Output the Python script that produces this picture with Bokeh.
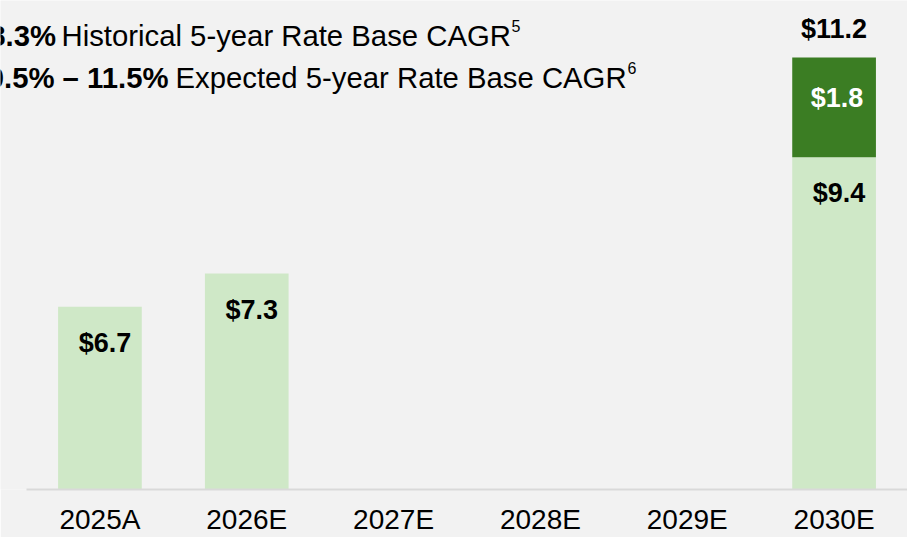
from bokeh.plotting import figure
from bokeh.models import ColumnDataSource, Label, Range1d, FixedTicker
from bokeh.core.properties import value
from bokeh.embed import file_html
from bokeh.resources import INLINE

# ---- data ----
years = ["2025A", "2026E", "2027E", "2028E", "2029E", "2030E"]
base_years = ["2025A", "2026E", "2030E"]
base_values = [6.7, 7.3, 9.4]
base_labels = ["$6.7", "$7.3", "$9.4"]
incr_years = ["2030E"]
incr_values = [1.8]
incr_labels = ["$1.8"]
total_years = ["2030E"]
total_values = [11.2]
total_labels = ["$11.2"]

hist_cagr = "8.3%"
hist_text = "Historical 5-year Rate Base CAGR"
hist_note = "5"
exp_cagr = "10.5% \u2013 11.5%"
exp_text = "Expected 5-year Rate Base CAGR"
exp_note = "6"

# ---- layout ----
W, H = 907, 537
BL, BB = 26, 48
Y0 = 3.4
FRAME_H = H - BB
XS = (W - BL) / len(years)
PX = (FRAME_H - 57) / (total_values[0] - Y0)
Y1 = Y0 + FRAME_H / PX
X_START = -0.5 - BL / XS
FONT = "Liberation Sans"
LIGHT = "#cfe8c7"
DARK = "#3b7d23"
BG = "#f2f2f2"

pos = {y: i for i, y in enumerate(years)}

p = figure(width=W, height=H, x_range=Range1d(X_START, len(years) - 0.5), y_range=Range1d(Y0, Y1),
           output_backend="svg", toolbar_location=None,
           min_border_left=0, min_border_right=0, min_border_top=0, min_border_bottom=BB)
p.background_fill_color = BG
p.border_fill_color = BG
p.outline_line_color = None
p.xgrid.visible = False
p.ygrid.visible = False
p.yaxis.visible = False

ax = p.xaxis[0]
ax.ticker = FixedTicker(ticks=list(range(len(years))))
ax.major_label_overrides = {i: y for i, y in enumerate(years)}
ax.bounds = (-0.5, len(years) - 0.5)
ax.axis_line_color = "#d9d9d9"
ax.axis_line_width = 2
ax.major_tick_line_color = None
ax.minor_tick_line_color = None
ax.major_label_text_font = FONT
ax.major_label_text_font_size = "28px"
ax.major_label_text_color = "#000000"
ax.major_label_standoff = 8

base_src = ColumnDataSource(dict(x=[pos[y] for y in base_years], top=base_values, lab=base_labels))
incr_bottom = [base_values[base_years.index(y)] for y in incr_years]
incr_top = [b + v for b, v in zip(incr_bottom, incr_values)]
incr_src = ColumnDataSource(dict(x=[pos[y] for y in incr_years], bottom=incr_bottom, top=incr_top,
                                 lab=incr_labels))
tot_src = ColumnDataSource(dict(x=[pos[y] for y in total_years], y=total_values, lab=total_labels))

p.vbar(x="x", top="top", bottom=0, width=0.57, source=base_src, fill_color=LIGHT, line_color=None)
p.vbar(x="x", top="top", bottom="bottom", width=0.57, source=incr_src, fill_color=DARK, line_color=None)

p.text(x="x", y="top", text="lab", source=base_src, text_font=value(FONT), text_font_size="27px",
       text_font_style="bold", text_color="#000000", text_align="center", text_baseline="alphabetic",
       x_offset=5, y_offset=36)
p.text(x="x", y="top", text="lab", source=incr_src, text_font=value(FONT), text_font_size="27px",
       text_font_style="bold", text_color="#ffffff", text_align="center", text_baseline="alphabetic",
       x_offset=3, y_offset=40)
p.text(x="x", y="y", text="lab", source=tot_src, text_font=value(FONT), text_font_size="27px",
       text_font_style="bold", text_color="#000000", text_align="center", text_baseline="alphabetic",
       x_offset=0, y_offset=-29)


def fx(ix):
    return X_START + ix / XS


def fy(iy):
    return Y0 + (FRAME_H - iy) / PX


def lab(text, ix, iy, size, bold=False, align="left"):
    p.add_layout(Label(x=fx(ix), y=fy(iy), x_units="data", y_units="data", text=text,
                       text_font=FONT, text_font_size=size,
                       text_font_style="bold" if bold else "normal", text_color="#000000",
                       text_align=align, text_baseline="alphabetic"))


lab(hist_cagr, 55.5, 35, "29.3px", bold=True, align="right")
lab(hist_text, 61, 35, "29.3px")
lab(hist_note, 511, 25, "16px")
lab(exp_cagr, 168, 77, "29.3px", bold=True, align="right")
lab(exp_text, 175, 77, "29.3px")
lab(exp_note, 627, 67, "16px")

open("out.html", "w").write(file_html(p, INLINE))
